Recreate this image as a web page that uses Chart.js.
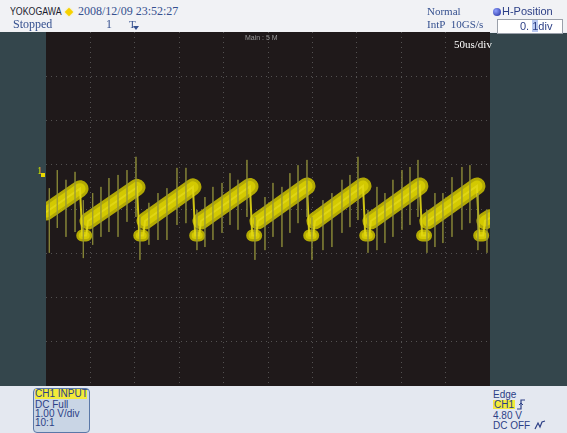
<!DOCTYPE html>
<html>
<head>
<meta charset="utf-8">
<script src="https://cdn.jsdelivr.net/npm/chart.js@4.4.1/dist/chart.umd.min.js"></script>
<style>
  body { margin: 0; width: 567px; height: 433px; overflow: hidden; position: relative; background: #e6e9f0; font-family: "Liberation Sans", Arial, sans-serif; }
  .abs { position: absolute; white-space: nowrap; }
  #topbar { left: 0; top: 0; width: 567px; height: 32px; background: #f1f2f5; }
  #leftbar { left: 0; top: 32px; width: 46px; height: 354px; background: #34464c; }
  #rightbar { left: 490px; top: 33px; width: 77px; height: 353px; background: #34464c; }
  #bottombar { left: 0; top: 386px; width: 567px; height: 47px; background: #e4e8f0; }
  #plot { left: 46px; top: 32px; width: 444px; height: 354px; }
  .serif { font-family: "Liberation Serif", "Times New Roman", serif; }
  .blue { color: #35508f; }
  .small { font-size: 10px; color: #2c3f86; line-height: 9px; }
</style>
</head>
<body>
<div id="topbar" class="abs"></div>
<div id="leftbar" class="abs"></div>
<div id="rightbar" class="abs"></div>
<div id="bottombar" class="abs"></div>
<div id="plot" class="abs"><canvas id="scope"></canvas></div>

<!-- top bar -->
<div class="abs" style="left:10px;top:6px;font-size:10px;color:#1b1b2e;transform:scaleX(0.88);transform-origin:left;">YOKOGAWA</div>
<div class="abs" style="left:66px;top:9px;width:6px;height:6px;background:#f6d100;transform:rotate(45deg);box-shadow:0 0 2px #ffe860;"></div>
<div class="abs serif blue" style="left:78px;top:4px;font-size:12px;">2008/12/09 23:52:27</div>
<div class="abs serif blue" style="left:13px;top:17px;font-size:12px;">Stopped</div>
<div class="abs serif blue" style="left:106px;top:17px;font-size:12px;">1</div>
<div class="abs serif blue" style="left:129px;top:18px;font-size:11px;">T</div>
<div class="abs" style="left:133px;top:26px;width:0;height:0;border-left:3px solid transparent;border-right:3px solid transparent;border-top:4px solid #35508f;"></div>
<div class="abs serif blue" style="left:427px;top:5px;font-size:11px;">Normal</div>
<div class="abs serif blue" style="left:427px;top:18px;font-size:11px;">IntP&nbsp; 10GS/s</div>
<div class="abs" style="left:493px;top:8px;width:8px;height:8px;border-radius:50%;background:radial-gradient(circle at 35% 35%,#8fa0ff,#1e2a9a);"></div>
<div class="abs" style="left:502px;top:5px;font-size:11px;color:#2c3f86;">H-Position</div>
<div class="abs" style="left:497px;top:19px;width:64px;height:13px;background:#fff;border:1px solid #9aa0aa;"></div>
<div class="abs" style="left:520px;top:20px;font-size:11px;color:#2c3f86;">0. <span style="background:#b8c8f0;">1</span>div</div>

<!-- plot overlays -->
<div class="abs" style="left:245px;top:34px;font-size:7px;color:#9a9a9a;">Main : 5 M</div>
<div class="abs serif" style="left:454px;top:38px;font-size:11px;color:#ffffff;">50us/div</div>
<div class="abs serif" style="left:37px;top:165px;font-size:10px;color:#e8d800;">1</div>
<div class="abs" style="left:41px;top:173px;width:4px;height:4px;background:#e8d800;"></div>

<!-- bottom bar -->
<div class="abs" style="left:33px;top:388px;width:55px;height:43px;border:1px solid #5a78a8;border-radius:4px;background:#c9d5e5;"></div>
<div class="abs small" style="left:35px;top:389px;width:52px;height:10px;background:#f2ea3a;line-height:10px;">CH1 INPUT</div>
<div class="abs small" style="left:35px;top:400px;">DC Full</div>
<div class="abs small" style="left:35px;top:409px;">1.00 V/div</div>
<div class="abs small" style="left:35px;top:418px;">10:1</div>

<div class="abs small" style="left:493px;top:390px;">Edge</div>
<div class="abs small" style="left:493px;top:400px;background:#f2ea3a;padding:0 1px;">CH1</div>
<svg class="abs" style="left:516px;top:399px;" width="10" height="11"><polyline points="1,10 5,10 5,1 9,1" fill="none" stroke="#2c3f86" stroke-width="1.2"/><polyline points="3,6 5,4 7,6" fill="none" stroke="#2c3f86" stroke-width="1"/></svg>
<div class="abs small" style="left:493px;top:411px;">4.80 V</div>
<div class="abs small" style="left:493px;top:421px;">DC OFF</div>
<svg class="abs" style="left:534px;top:420px;" width="12" height="10"><polyline points="1,9 4,3 6,7 8,2 11,1" fill="none" stroke="#2c3f86" stroke-width="1.2"/></svg>

<script>
// captured trace, time in us (50 us/div), level in divisions from screen centre
const traceTimeUs = [0, 38.3, 40.8, 45.3, 47.3,
  102.5, 105.0, 109.5, 111.5,
  165.5, 168.0, 172.5, 174.5,
  229.7, 232.2, 236.7, 238.7,
  293.9, 296.4, 300.9, 302.9,
  357.0, 359.5, 364.0, 366.0,
  421.0, 423.5, 428.0, 430.0,
  485.3, 487.8, 492.3, 494.3, 500];
const traceDiv = [-0.07, 0.46, -0.60, -0.60, -0.27,
  0.49, -0.60, -0.60, -0.27,
  0.50, -0.60, -0.60, -0.27,
  0.51, -0.60, -0.60, -0.27,
  0.52, -0.60, -0.60, -0.27,
  0.52, -0.60, -0.60, -0.27,
  0.52, -0.60, -0.60, -0.27,
  0.52, -0.60, -0.60, -0.27, -0.20];

// thin noise spikes
const spikeTimeUs = [3.7, 12.7, 22.5, 32.7, 42.0, 52.6, 61.9, 70.9, 81.1, 91.2, 101.3, 105.8, 115.9,
  126.1, 136.2, 147.5, 157.6, 170.0, 179.0, 188.0, 198.2, 207.2, 216.2, 226.3, 235.3, 246.6,
  255.6, 265.7, 274.7, 283.8, 293.9, 299.5, 311.9, 322.0, 333.3, 342.3, 351.3, 362.6, 372.7,
  381.7, 390.7, 400.9, 409.9, 418.9, 429.0, 438.0, 447.0, 457.2, 468.4, 477.4, 486.4, 496.6];
const spikeTopDiv = [0.47, 0.88, 0.66, 0.84, 0.20, 0.36, 0.50, 0.70, 0.77, 0.88, 1.18, -0.18, 0.14,
  0.36, 0.47, 0.93, 0.93, -0.02, 0.27, 0.50, 0.59, 0.81, 0.66, 1.11, -0.18, 0.27,
  0.59, 0.50, 0.81, 0.99, 1.11, -0.18, 0.20, 0.36, 0.66, 0.77, 1.18, -0.02, 0.50,
  0.36, 0.66, 0.88, 0.95, 1.11, -0.02, 0.36, 0.36, 0.72, 0.95, 0.99, 0.36, -0.02];
const spikeBottomDiv = [-0.99, -0.43, -0.63, -0.52, -1.11, -0.81, -0.63, -0.52, -0.63, -0.29, -0.18, -1.15, -0.81,
  -0.70, -0.70, -0.36, -0.32, -0.93, -0.86, -0.70, -0.54, -0.36, -0.47, -0.18, -1.15, -0.93,
  -0.63, -0.86, -0.54, -0.32, -0.18, -1.15, -0.93, -0.86, -0.54, -0.41, -0.25, -0.99, -0.93,
  -0.77, -0.63, -0.47, -0.36, -0.18, -0.99, -0.86, -0.77, -0.63, -0.47, -0.32, -0.93, -0.99];

const trace = traceTimeUs.map((t, i) => ({ x: t, y: traceDiv[i] }));

// split the trace: long rising ramps drawn as a thick band, flat bottoms as a small blob
const band = [];
const blob = [];
for (let i = 0; i < trace.length - 1; i++) {
    const p = trace[i], q = trace[i + 1];
    if (q.x - p.x > 5 && q.y > p.y) {
        band.push(p, q, { x: q.x, y: null });
    } else if (Math.abs(q.y - p.y) < 0.05) {
        blob.push(p, q, { x: q.x, y: null });
    }
}

const spikes = [];
spikeTimeUs.forEach((t, i) => {
    spikes.push({ x: t, y: spikeTopDiv[i] }, { x: t, y: spikeBottomDiv[i] }, { x: t, y: null });
});

const screenBg = {
    id: 'screenBg',
    beforeDraw(chart) {
        chart.ctx.save();
        chart.ctx.fillStyle = '#1f191a';
        chart.ctx.fillRect(0, 0, chart.width, chart.height);
        chart.ctx.restore();
    }
};

// dotted graticule, edge lines hidden
const gridColor = ctx => (ctx.index === 0 || ctx.index === 10 || (ctx.scale.axis === 'y' && ctx.index === 8))
    ? 'rgba(0,0,0,0)' : 'rgba(105,105,105,0.7)';

const thick = (data, color, width) => ({
    data: data,
    borderColor: color,
    borderWidth: width,
    borderCapStyle: 'round',
    borderJoinStyle: 'round',
    pointRadius: 0,
    spanGaps: false
});

new Chart(document.getElementById('scope'), {
    type: 'line',
    data: {
        datasets: [
            {
                data: spikes,
                borderColor: 'rgba(150,150,60,0.6)',
                borderWidth: 1,
                pointRadius: 0,
                spanGaps: false
            },
            {
                data: trace,
                borderColor: 'rgba(225,215,20,0.9)',
                borderWidth: 2,
                pointRadius: 0
            },
            thick(blob, 'rgba(205,195,0,0.85)', 12),
            thick(blob, '#f6ec08', 7),
            thick(band, 'rgba(205,195,0,0.85)', 17),
            thick(band, '#f6ec08', 11)
        ]
    },
    options: {
        responsive: true,
        maintainAspectRatio: false,
        animation: false,
        layout: { padding: 0 },
        plugins: { legend: { display: false }, tooltip: { enabled: false } },
        scales: {
            x: {
                type: 'linear', min: 0, max: 500,
                ticks: { display: false, stepSize: 50 },
                grid: { color: gridColor, drawTicks: false, lineWidth: 1 },
                border: { display: false, dash: [1, 4] }
            },
            y: {
                min: -4, max: 4,
                ticks: { display: false, stepSize: 1 },
                grid: { color: gridColor, drawTicks: false, lineWidth: 1 },
                border: { display: false, dash: [1, 4] }
            }
        }
    },
    plugins: [screenBg]
});
</script>
</body>
</html>
